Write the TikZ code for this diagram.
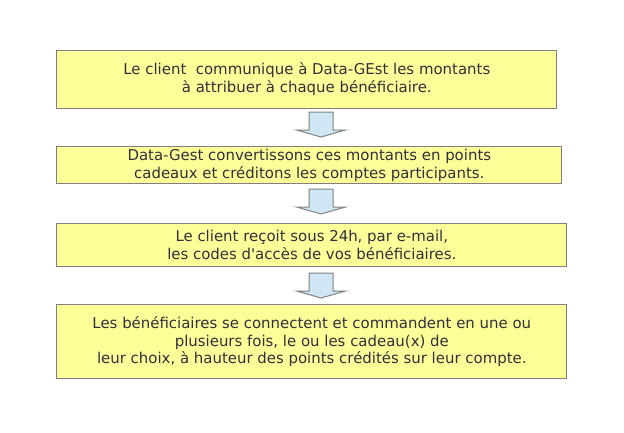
\documentclass[tikz,border=0pt]{standalone}
\usepackage{fontspec}
\setmainfont{DejaVu Sans}
\definecolor{jaune}{HTML}{FFFF99}
\definecolor{bord}{HTML}{808080}
\definecolor{bleu}{HTML}{CFE7F5}
\definecolor{texte}{HTML}{30303A}
\newdimen\px \px=0.75pt
\begin{document}
\begin{tikzpicture}[x=0.75pt,y=-0.75pt,
  etape/.style={draw=bord,line width=1\px,fill=jaune,text=texte,align=center,
    inner sep=0pt,font=\fontsize{11.2}{13.4}\selectfont},
  fleche/.style={draw=bord,line width=1\px,fill=bleu}]

\useasboundingbox (0,0) rectangle (624,432);

\node[etape,minimum width=499.7\px,minimum height=58\px] (e1) at (306.8,79)
  {Le client\ \ communique à Data-GEst les montants\\ à attribuer à chaque bénéficiaire.};
\node[etape,minimum width=504.7\px,minimum height=37.3\px] (e2) at (309.3,165.3)
  {Data-Gest convertissons ces montants en points\\ cadeaux et créditons les comptes participants.};
\node[etape,minimum width=509.7\px,minimum height=43\px] (e3) at (311.8,244.5)
  {Le client reçoit sous 24h, par e-mail,\\ les codes d\textquotesingle accès de vos bénéficiaires.};
\node[etape,minimum width=509.7\px,minimum height=74.7\px] (e4) at (311.8,341.6)
  {Les bénéficiaires se connectent et commandent en une ou\\ plusieurs fois, le ou les cadeau(x) de\\ leur choix, à hauteur des points crédités sur leur compte.};

\draw[fleche] (309,112) -- ++(24,0) -- ++(0,18) -- ++(12.5,0) -- ++(-24.5,7) -- ++(-24.5,-7) -- ++(12.5,0) -- cycle;
\draw[fleche] (309,189) -- ++(24,0) -- ++(0,18) -- ++(12.5,0) -- ++(-24.5,7) -- ++(-24.5,-7) -- ++(12.5,0) -- cycle;
\draw[fleche] (309,273) -- ++(24,0) -- ++(0,18) -- ++(12.5,0) -- ++(-24.5,7) -- ++(-24.5,-7) -- ++(12.5,0) -- cycle;

\end{tikzpicture}
\end{document}
